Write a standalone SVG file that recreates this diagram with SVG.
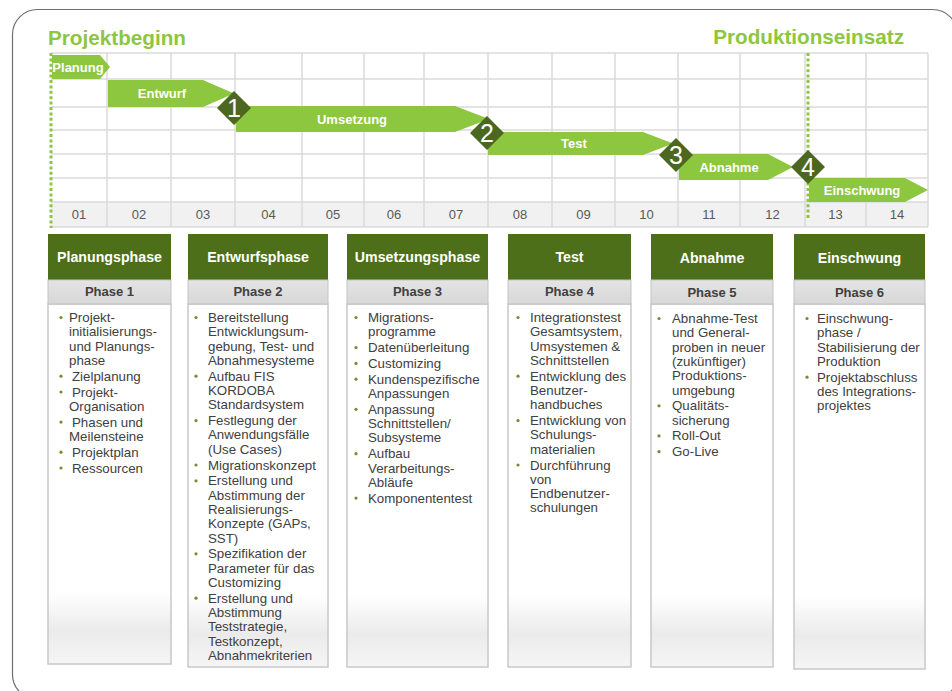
<svg xmlns="http://www.w3.org/2000/svg" width="952" height="691" viewBox="0 0 952 691">
<defs>
<linearGradient id="bodyGrad" x1="0" y1="0" x2="0" y2="1">
<stop offset="0" stop-color="#ffffff"/>
<stop offset="0.8" stop-color="#ffffff"/>
<stop offset="0.91" stop-color="#ebebeb"/>
<stop offset="1" stop-color="#f5f5f5"/>
</linearGradient>
<linearGradient id="phaseGrad" x1="0" y1="0" x2="0" y2="1">
<stop offset="0" stop-color="#e4e4e4"/>
<stop offset="1" stop-color="#d8d8d8"/>
</linearGradient>
</defs>
<style>
.frame{fill:#ffffff;stroke:#6e6e6e;stroke-width:1.2}
.title{font-family:"Liberation Sans",Arial,sans-serif;font-weight:bold;font-size:20.7px;fill:#8dc63f}
.grid{stroke:#dadada;stroke-width:1.5;fill:none}
.band{fill:#f1f1f1}
.axis{font-family:"Liberation Sans",Arial,sans-serif;font-size:13px;fill:#595959;text-anchor:middle}
.bar{fill:#8dc63f}
.barText{font-family:"Liberation Sans",Arial,sans-serif;font-weight:bold;font-size:13px;fill:#ffffff;text-anchor:middle}
.ms{fill:#4b6720}
.msText{font-family:"Liberation Sans",Arial,sans-serif;font-size:25px;fill:#ffffff;text-anchor:middle}
.dots{stroke:#8dc63f;stroke-width:3;stroke-dasharray:3 2.4;fill:none}
.head{fill:#4e6f1a}
.headText{font-family:"Liberation Sans",Arial,sans-serif;font-weight:bold;font-size:14.2px;fill:#ffffff;text-anchor:middle}
.phase{fill:url(#phaseGrad);stroke:#c4c4c4;stroke-width:1}
.phaseText{font-family:"Liberation Sans",Arial,sans-serif;font-weight:bold;font-size:13px;fill:#404040;text-anchor:middle}
.body{fill:url(#bodyGrad);stroke:#c8c8c8;stroke-width:1.5}
.item{font-family:"Liberation Sans",Arial,sans-serif;font-size:13.3px;fill:#404040}
.bul{fill:#6f8f35}
</style>

<rect class="frame" x="12.5" y="9.5" width="945" height="690" rx="25"/>

<g id="titles">
<text class="title" x="48" y="45">Projektbeginn</text>
<text class="title" x="904" y="44" text-anchor="end">Produktionseinsatz</text>
</g>

<g id="timeline-grid">
<rect class="band" x="51" y="202" width="877" height="25"/>
<path class="grid" d="M51 53H928M51 79H928M51 107H928M51 130H928M51 154H928M51 178H928M51 202H928M51 227H928"/>
<path class="grid" d="M107 53V227M171 53V227M235 53V227M302 53V227M364 53V227M424 53V227M488 53V227M552 53V227M615 53V227M678 53V227M740 53V227M805 53V227M866 53V227M928 53V227"/>
<text class="axis" x="79" y="219">01</text>
<text class="axis" x="139" y="219">02</text>
<text class="axis" x="203" y="219">03</text>
<text class="axis" x="268.5" y="219">04</text>
<text class="axis" x="333" y="219">05</text>
<text class="axis" x="394" y="219">06</text>
<text class="axis" x="456" y="219">07</text>
<text class="axis" x="520" y="219">08</text>
<text class="axis" x="583.5" y="219">09</text>
<text class="axis" x="646.5" y="219">10</text>
<text class="axis" x="709" y="219">11</text>
<text class="axis" x="772.5" y="219">12</text>
<text class="axis" x="835.5" y="219">13</text>
<text class="axis" x="897" y="219">14</text>
</g>

<g id="markers">
<line class="dots" x1="51" y1="53" x2="51" y2="228"/>
<line class="dots" x1="808" y1="53" x2="808" y2="219"/>
</g>

<g id="bar-planung">
<polygon class="bar" points="52,55 100,55 110,67 100,79 52,79"/>
<text class="barText" x="78" y="71.5">Planung</text>
</g>
<g id="bar-entwurf">
<polygon class="bar" points="108,80 203,80 234,93.5 203,107 108,107"/>
<text class="barText" x="162" y="98">Entwurf</text>
</g>
<g id="bar-umsetzung">
<polygon class="bar" points="236,106 455,106 489,119 455,132 236,132"/>
<text class="barText" x="352" y="124">Umsetzung</text>
</g>
<g id="bar-test">
<polygon class="bar" points="488,132 643,132 673,143.5 643,155 488,155"/>
<text class="barText" x="574" y="148">Test</text>
</g>
<g id="bar-abnahme">
<polygon class="bar" points="679,154 768,154 793,167 768,180 679,180"/>
<text class="barText" x="729" y="171.5">Abnahme</text>
</g>
<g id="bar-einschwung">
<polygon class="bar" points="809,178 905,178 928,190 905,202 809,202"/>
<text class="barText" x="862" y="195">Einschwung</text>
</g>

<g id="milestone-1">
<polygon class="ms" points="234,91 251,108 234,125 217,108"/>
<text class="msText" x="234" y="117">1</text>
</g>
<g id="milestone-2">
<polygon class="ms" points="487,116 504,133 487,150 470,133"/>
<text class="msText" x="487" y="142">2</text>
</g>
<g id="milestone-3">
<polygon class="ms" points="676,138 693,155 676,172 659,155"/>
<text class="msText" x="676" y="164">3</text>
</g>
<g id="milestone-4">
<polygon class="ms" points="808,150 825,167 808,184 791,167"/>
<text class="msText" x="808" y="176">4</text>
</g>

<g id="phase-1">
<rect class="body" x="48" y="304" width="123" height="360"/>
<rect class="head" x="48" y="234" width="123" height="46"/>
<rect class="phase" x="48" y="280" width="123" height="24"/>
<text class="headText" x="109.5" y="262">Planungsphase</text>
<text class="phaseText" x="109.5" y="296">Phase 1</text>
<circle class="bul" cx="61" cy="317.5" r="1.6"/>
<circle class="bul" cx="61" cy="376.2" r="1.6"/>
<circle class="bul" cx="61" cy="392" r="1.6"/>
<circle class="bul" cx="61" cy="422.1" r="1.6"/>
<circle class="bul" cx="61" cy="452.2" r="1.6"/>
<circle class="bul" cx="61" cy="468" r="1.6"/>
<text class="item" x="69" y="322">Projekt-</text>
<text class="item" x="69" y="336.3">initialisierungs-</text>
<text class="item" x="69" y="350.6">und Planungs-</text>
<text class="item" x="69" y="364.9">phase</text>
<text class="item" x="72" y="380.7">Zielplanung</text>
<text class="item" x="72" y="396.5">Projekt-</text>
<text class="item" x="69" y="410.8">Organisation</text>
<text class="item" x="72" y="426.6">Phasen und</text>
<text class="item" x="69" y="440.9">Meilensteine</text>
<text class="item" x="72" y="456.7">Projektplan</text>
<text class="item" x="72" y="472.5">Ressourcen</text>
</g>

<g id="phase-2">
<rect class="body" x="188" y="304" width="140" height="363"/>
<rect class="head" x="188" y="234" width="140" height="46"/>
<rect class="phase" x="188" y="280" width="140" height="24"/>
<text class="headText" x="258" y="262">Entwurfsphase</text>
<text class="phaseText" x="258" y="296">Phase 2</text>
<circle class="bul" cx="196" cy="317.5" r="1.6"/>
<circle class="bul" cx="196" cy="376.2" r="1.6"/>
<circle class="bul" cx="196" cy="420.6" r="1.6"/>
<circle class="bul" cx="196" cy="465" r="1.6"/>
<circle class="bul" cx="196" cy="480.8" r="1.6"/>
<circle class="bul" cx="196" cy="553.8" r="1.6"/>
<circle class="bul" cx="196" cy="598.2" r="1.6"/>
<text class="item" x="208" y="322">Bereitstellung</text>
<text class="item" x="208" y="336.3">Entwicklungsum-</text>
<text class="item" x="208" y="350.6">gebung, Test- und</text>
<text class="item" x="208" y="364.9">Abnahmesysteme</text>
<text class="item" x="208" y="380.7">Aufbau FIS</text>
<text class="item" x="208" y="395">KORDOBA</text>
<text class="item" x="208" y="409.3">Standardsystem</text>
<text class="item" x="208" y="425.1">Festlegung der</text>
<text class="item" x="208" y="439.4">Anwendungsfälle</text>
<text class="item" x="208" y="453.7">(Use Cases)</text>
<text class="item" x="208" y="469.5">Migrationskonzept</text>
<text class="item" x="208" y="485.3">Erstellung und</text>
<text class="item" x="208" y="499.6">Abstimmung der</text>
<text class="item" x="208" y="513.9">Realisierungs-</text>
<text class="item" x="208" y="528.2">Konzepte (GAPs,</text>
<text class="item" x="208" y="542.5">SST)</text>
<text class="item" x="208" y="558.3">Spezifikation der</text>
<text class="item" x="208" y="572.6">Parameter für das</text>
<text class="item" x="208" y="586.9">Customizing</text>
<text class="item" x="208" y="602.7">Erstellung und</text>
<text class="item" x="208" y="617">Abstimmung</text>
<text class="item" x="208" y="631.3">Teststrategie,</text>
<text class="item" x="208" y="645.6">Testkonzept,</text>
<text class="item" x="208" y="659.9">Abnahmekriterien</text>
</g>

<g id="phase-3">
<rect class="body" x="347" y="304" width="141" height="363"/>
<rect class="head" x="347" y="234" width="141" height="46"/>
<rect class="phase" x="347" y="280" width="141" height="24"/>
<text class="headText" x="417.5" y="262">Umsetzungsphase</text>
<text class="phaseText" x="417.5" y="296">Phase 3</text>
<circle class="bul" cx="356" cy="317.5" r="1.6"/>
<circle class="bul" cx="356" cy="347.6" r="1.6"/>
<circle class="bul" cx="356" cy="363.4" r="1.6"/>
<circle class="bul" cx="356" cy="379.2" r="1.6"/>
<circle class="bul" cx="356" cy="409.3" r="1.6"/>
<circle class="bul" cx="356" cy="453.7" r="1.6"/>
<circle class="bul" cx="356" cy="498.1" r="1.6"/>
<text class="item" x="368" y="322">Migrations-</text>
<text class="item" x="368" y="336.3">programme</text>
<text class="item" x="368" y="352.1">Datenüberleitung</text>
<text class="item" x="368" y="367.9">Customizing</text>
<text class="item" x="368" y="383.7">Kundenspezifische</text>
<text class="item" x="368" y="398">Anpassungen</text>
<text class="item" x="368" y="413.8">Anpassung</text>
<text class="item" x="368" y="428.1">Schnittstellen/</text>
<text class="item" x="368" y="442.4">Subsysteme</text>
<text class="item" x="368" y="458.2">Aufbau</text>
<text class="item" x="368" y="472.5">Verarbeitungs-</text>
<text class="item" x="368" y="486.8">Abläufe</text>
<text class="item" x="368" y="502.6">Komponententest</text>
</g>

<g id="phase-4">
<rect class="body" x="508" y="304" width="123" height="363"/>
<rect class="head" x="508" y="234" width="123" height="46"/>
<rect class="phase" x="508" y="280" width="123" height="24"/>
<text class="headText" x="569.5" y="262">Test</text>
<text class="phaseText" x="569.5" y="296">Phase 4</text>
<circle class="bul" cx="518" cy="317.5" r="1.6"/>
<circle class="bul" cx="518" cy="376.2" r="1.6"/>
<circle class="bul" cx="518" cy="420.6" r="1.6"/>
<circle class="bul" cx="518" cy="465" r="1.6"/>
<text class="item" x="530" y="322">Integrationstest</text>
<text class="item" x="530" y="336.3">Gesamtsystem,</text>
<text class="item" x="530" y="350.6">Umsystemen &amp;</text>
<text class="item" x="530" y="364.9">Schnittstellen</text>
<text class="item" x="530" y="380.7">Entwicklung des</text>
<text class="item" x="530" y="395">Benutzer-</text>
<text class="item" x="530" y="409.3">handbuches</text>
<text class="item" x="530" y="425.1">Entwicklung von</text>
<text class="item" x="530" y="439.4">Schulungs-</text>
<text class="item" x="530" y="453.7">materialien</text>
<text class="item" x="530" y="469.5">Durchführung</text>
<text class="item" x="530" y="483.8">von</text>
<text class="item" x="530" y="498.1">Endbenutzer-</text>
<text class="item" x="530" y="512.4">schulungen</text>
</g>

<g id="phase-5">
<rect class="body" x="651" y="304" width="122" height="363"/>
<rect class="head" x="651" y="234" width="122" height="46"/>
<rect class="phase" x="651" y="280" width="122" height="24"/>
<text class="headText" x="712" y="263">Abnahme</text>
<text class="phaseText" x="712" y="297">Phase 5</text>
<circle class="bul" cx="659" cy="318.5" r="1.6"/>
<circle class="bul" cx="659" cy="405.8" r="1.6"/>
<circle class="bul" cx="659" cy="435.9" r="1.6"/>
<circle class="bul" cx="659" cy="451.7" r="1.6"/>
<text class="item" x="672" y="323">Abnahme-Test</text>
<text class="item" x="672" y="337.3">und General-</text>
<text class="item" x="672" y="351.6">proben in neuer</text>
<text class="item" x="672" y="365.9">(zukünftiger)</text>
<text class="item" x="672" y="380.2">Produktions-</text>
<text class="item" x="672" y="394.5">umgebung</text>
<text class="item" x="672" y="410.3">Qualitäts-</text>
<text class="item" x="672" y="424.6">sicherung</text>
<text class="item" x="672" y="440.4">Roll-Out</text>
<text class="item" x="672" y="456.2">Go-Live</text>
</g>

<g id="phase-6">
<rect class="body" x="794" y="304" width="131" height="365"/>
<rect class="head" x="794" y="234" width="131" height="46"/>
<rect class="phase" x="794" y="280" width="131" height="24"/>
<text class="headText" x="859.5" y="263">Einschwung</text>
<text class="phaseText" x="859.5" y="297">Phase 6</text>
<circle class="bul" cx="807" cy="318.5" r="1.6"/>
<circle class="bul" cx="807" cy="377.2" r="1.6"/>
<text class="item" x="817" y="323">Einschwung-</text>
<text class="item" x="817" y="337.3">phase /</text>
<text class="item" x="817" y="351.6">Stabilisierung der</text>
<text class="item" x="817" y="365.9">Produktion</text>
<text class="item" x="817" y="381.7">Projektabschluss</text>
<text class="item" x="817" y="396">des Integrations-</text>
<text class="item" x="817" y="410.3">projektes</text>
</g>
</svg>
